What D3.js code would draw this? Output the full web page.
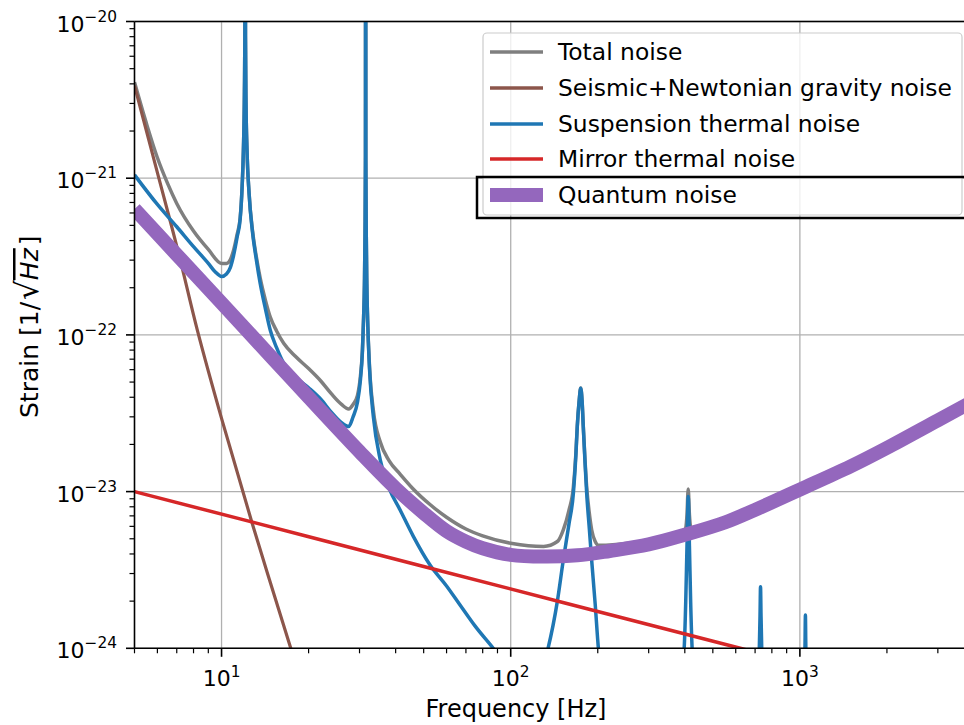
<!DOCTYPE html>
<html><head><meta charset="utf-8">
<script src="https://cdn.jsdelivr.net/npm/d3@7"></script>
<style>body{margin:0;background:#fff}svg{display:block;font-family:"DejaVu Sans",sans-serif}</style>
</head><body><svg id="c" width="964" height="725"></svg>
<script>
// ---------- data ----------
const freqDomain = [5, 5000];
const strainDomain = [1e-24, 1e-20];
const xMajorTicks = [10, 100, 1000];
const xTickExponents = ["1", "2", "3"];
const yMajorTicks = [1e-24, 1e-23, 1e-22, 1e-21, 1e-20];
const yTickExponents = ["\u221224", "\u221223", "\u221222", "\u221221", "\u221220"];
const seriesNames = ["Total noise", "Seismic+Newtonian gravity noise", "Suspension thermal noise", "Mirror thermal noise", "Quantum noise"];
const seriesColors = ["#7f7f7f", "#8c564b", "#1f77b4", "#d62728", "#9467bd"];

const totalNoise = [[5,4.09e-21],[5.5,2.23e-21],[6,1.35e-21],[6.5,9.3e-22],[7,6.9e-22],[8,4.6e-22],[9,3.51e-22],[10,2.86e-22],[10.4,2.86e-22],[10.73,3.03e-22],[11,3.46e-22],[11.32,4.38e-22],[11.6,5.6e-22],[11.78,8.9e-22],[11.9,1.5e-21],[12.0,3.6e-21],[12.04,8e-21],[12.07,1e-18],[12.1,8e-21],[12.15,3e-21],[12.25,1.5e-21],[12.45,8.07e-22],[12.8,4.6e-22],[13.2,3.13e-22],[13.6,2.31e-22],[14.2,1.65e-22],[14.74,1.3e-22],[15.5,1.06e-22],[16.4,8.85e-23],[18,7.3e-23],[20,6.1e-23],[22,5.1e-23],[24,4.2e-23],[26,3.6e-23],[27.5,3.37e-23],[28.5,3.6e-23],[29.5,4.1e-23],[30.2,5.4e-23],[30.7,8e-23],[31.0,1.31e-22],[31.2,2.1e-22],[31.35,4.5e-22],[31.45,1.3e-21],[31.5,1e-18],[31.55,1.3e-21],[31.65,4.5e-22],[31.8,2.1e-22],[32.0,1.26e-22],[32.5,6.2e-23],[33.5,3.3e-23],[35.4,2.07e-23],[38,1.57e-23],[41.5,1.29e-23],[46,1.04e-23],[52.6,8.27e-24],[60,6.86e-24],[70,5.77e-24],[80,5.22e-24],[100,4.68e-24],[115,4.51e-24],[130,4.47e-24],[145,4.8e-24],[152,5.7e-24],[159,7.6e-24],[164.7,1.07e-23],[168,1.75e-23],[169.9,2.63e-23],[172.5,3.82e-23],[174.6,4.58e-23],[176.5,3.82e-23],[178.2,2.63e-23],[180.5,1.65e-23],[183.1,1.07e-23],[187,7.27e-24],[190.5,5.71e-24],[196,4.8e-24],[201,4.54e-24],[220,4.57e-24],[300,4.9e-24],[390,5.45e-24],[398,5.55e-24],[403,5.85e-24],[407,7.1e-24],[411,1.04e-23],[415,7.1e-24],[419,5.9e-24],[424,5.6e-24],[432,5.65e-24],[550,6.45e-24],[700,7.75e-24],[724,8.0e-24],[731,8.3e-24],[738,8.05e-24],[1000,1.03e-23],[1045,1.08e-23],[2000,1.9e-23],[3000,2.85e-23],[5000,4.75e-23]];

const seismicNoise = [[5,3.9e-21],[6.07,1.0e-21],[7.1,3.33e-22],[8.25,1.07e-22],[10.04,2.86e-23],[12.76,6.28e-24],[17.3,1.02e-24],[20,4.4e-25]];

const suspensionNoise = [[5,1.05e-21],[6,6.8e-22],[7,4.9e-22],[8,3.66e-22],[9,2.86e-22],[9.5,2.53e-22],[10,2.36e-22],[10.4,2.45e-22],[10.73,2.7e-22],[11,3.2e-22],[11.32,4.2e-22],[11.6,5.5e-22],[11.78,8.8e-22],[11.9,1.5e-21],[12.0,3.6e-21],[12.04,8e-21],[12.07,1e-18],[12.1,8e-21],[12.15,3e-21],[12.25,1.5e-21],[12.45,8e-22],[12.8,4.5e-22],[13.2,3e-22],[13.6,2.14e-22],[14.2,1.45e-22],[14.74,1.07e-22],[15.5,8.3e-23],[16.4,6.6e-23],[18,5.4e-23],[20,4.6e-23],[22,3.9e-23],[24,3.2e-23],[26,2.75e-23],[27.5,2.6e-23],[28.5,3.0e-23],[29.5,3.7e-23],[30.2,5.1e-23],[30.7,7.8e-23],[31.0,1.3e-22],[31.2,2.1e-22],[31.35,4.5e-22],[31.45,1.3e-21],[31.5,1e-18],[31.55,1.3e-21],[31.65,4.5e-22],[31.8,2.1e-22],[32.0,1.25e-22],[32.5,6e-23],[33.5,3e-23],[35.4,1.59e-23],[38,1.05e-23],[41.5,7.6e-24],[46,5.2e-24],[52.6,3.4e-24],[60,2.5e-24],[66.8,1.89e-24],[75,1.4e-24],[87,1.0e-24],[100,7.2e-25],[115,5.5e-25],[125,6.5e-25],[134.6,1.0e-24],[145,2.0e-24],[152,3.66e-24],[159,6.2e-24],[164.7,9.75e-24],[168,1.7e-23],[169.9,2.6e-23],[172.5,3.8e-23],[174.6,4.56e-23],[176.5,3.8e-23],[178.2,2.6e-23],[180.5,1.6e-23],[183.1,9.75e-24],[187,5.8e-24],[190.5,3.66e-24],[196,1.9e-24],[201,1.0e-24],[210,6e-25],[300,3e-25],[390,7e-25],[398,1.0e-24],[403,2.0e-24],[407,4.5e-24],[411,9.3e-24],[415,4.5e-24],[419,2.0e-24],[424,1.0e-24],[432,7e-25],[600,3e-25],[720,7e-25],[724,1.0e-24],[728,1.6e-24],[731,2.47e-24],[734,1.6e-24],[738,1.0e-24],[742,7e-25],[900,3e-25],[1038,7e-25],[1042,1.1e-24],[1045,1.63e-24],[1048,1.1e-24],[1052,7e-25],[1300,3e-25],[5000,1e-25]];

const mirrorNoise = [[5,1e-23],[50,3.33e-24],[622,1e-24],[5000,3.7e-25]];

const quantumNoise = [[5,6.35e-22],[7,3.25e-22],[10,1.6e-22],[15,7.1e-23],[20,4.0e-23],[30,1.8e-23],[40,1.05e-23],[50,7.3e-24],[60,5.6e-24],[70,4.8e-24],[80,4.35e-24],[100,3.95e-24],[130,3.85e-24],[170,3.92e-24],[220,4.18e-24],[300,4.6e-24],[400,5.3e-24],[550,6.35e-24],[700,7.65e-24],[1000,1.03e-23],[1500,1.45e-23],[2000,1.9e-23],[3000,2.85e-23],[4000,3.8e-23],[5000,4.75e-23]];

const seriesData = [totalNoise, seismicNoise, suspensionNoise, mirrorNoise, quantumNoise];
const seriesWidths = [3.5, 3.2, 3.5, 3.5, 14];

// ---------- drawing ----------
const svg = d3.select("#c");
const L = 134.5, R = 1002, T = 21.5, B = 648.3;
const x = d3.scaleLog().domain(freqDomain).range([L, R]);
const y = d3.scaleLog().domain(strainDomain).range([B, T]);

svg.append("defs").append("clipPath").attr("id","clip")
  .append("rect").attr("x", L).attr("y", T).attr("width", R - L).attr("height", B - T);

// grid
const grid = svg.append("g").attr("stroke", "#b0b0b0").attr("stroke-width", 1.3);
xMajorTicks.forEach(f => grid.append("line").attr("x1", x(f)).attr("x2", x(f)).attr("y1", T).attr("y2", B));
yMajorTicks.forEach(v => grid.append("line").attr("x1", L).attr("x2", R).attr("y1", y(v)).attr("y2", y(v)));

// lines: resonant series keep a monotone curve, smooth series use Catmull-Rom
const lineMono = d3.line().x(d => x(d[0])).y(d => y(d[1])).curve(d3.curveMonotoneX);
const lineSmooth = d3.line().x(d => x(d[0])).y(d => y(d[1])).curve(d3.curveCatmullRom.alpha(0.5));
const plot = svg.append("g").attr("clip-path", "url(#clip)");
seriesData.forEach((data, i) => {
  const gen = (i === 1 || i === 3 || i === 4) ? lineSmooth : lineMono;
  plot.append("path").datum(data).attr("d", gen)
    .attr("fill", "none").attr("stroke", seriesColors[i])
    .attr("stroke-width", seriesWidths[i])
    .attr("stroke-linejoin", "round").attr("stroke-linecap", "butt");
});

// minor ticks
const xMinor = [], yMinor = [];
[1, 10, 100, 1000].forEach(d => { for (let m = 2; m <= 9; m++) { const f = m * d; if (f >= 5 && f <= 5000) xMinor.push(f); } });
[1e-24, 1e-23, 1e-22, 1e-21].forEach(d => { for (let m = 2; m <= 9; m++) yMinor.push(m * d); });

const ax = svg.append("g").attr("stroke", "#000");
xMinor.forEach(f => ax.append("line").attr("x1", x(f)).attr("x2", x(f)).attr("y1", B).attr("y2", B + 5).attr("stroke-width", 1.2));
xMajorTicks.forEach(f => ax.append("line").attr("x1", x(f)).attr("x2", x(f)).attr("y1", B).attr("y2", B + 8.5).attr("stroke-width", 1.6));
yMinor.forEach(v => ax.append("line").attr("x1", L - 5).attr("x2", L).attr("y1", y(v)).attr("y2", y(v)).attr("stroke-width", 1.2));
yMajorTicks.forEach(v => ax.append("line").attr("x1", L - 8.5).attr("x2", L).attr("y1", y(v)).attr("y2", y(v)).attr("stroke-width", 1.6));

// spines
ax.append("line").attr("x1", L).attr("x2", L).attr("y1", T).attr("y2", B).attr("stroke-width", 1.6);
ax.append("line").attr("x1", L).attr("x2", R).attr("y1", B).attr("y2", B).attr("stroke-width", 1.6);
ax.append("line").attr("x1", L).attr("x2", R).attr("y1", T).attr("y2", T).attr("stroke-width", 1.6);

// tick labels
const tickFont = 22;
xMajorTicks.forEach((f, i) => {
  const t = svg.append("text").attr("x", x(f)).attr("y", 686).attr("text-anchor", "middle")
    .attr("font-size", tickFont).attr("fill", "#000");
  t.append("tspan").text("10");
  t.append("tspan").attr("font-size", tickFont * 0.7).attr("dy", -9).text(xTickExponents[i]);
});
yMajorTicks.forEach((v, i) => {
  const t = svg.append("text").attr("x", 117).attr("y", y(v) + 10).attr("text-anchor", "end")
    .attr("font-size", tickFont).attr("fill", "#000");
  t.append("tspan").text("10");
  t.append("tspan").attr("font-size", tickFont * 0.7).attr("dy", -10).text(yTickExponents[i]);
});

// axis labels
svg.append("text").attr("x", 516).attr("y", 717).attr("text-anchor", "middle")
  .attr("font-size", 24).text("Frequency [Hz]");
const yl = svg.append("text").attr("transform", "translate(38,418) rotate(-90)")
  .attr("text-anchor", "start").attr("font-size", 25);
yl.append("tspan").text("Strain [1/");
yl.append("tspan").attr("font-size", 31).attr("dx", 2).text("\u221A");
yl.append("tspan").attr("font-style", "italic").attr("text-decoration", "overline").text("Hz");
yl.append("tspan").attr("dx", 3).text("]");

// legend
const lg = svg.append("g");
lg.append("rect").attr("x", 483).attr("y", 33).attr("width", 479).attr("height", 182).attr("rx", 4)
  .attr("fill", "#fff").attr("fill-opacity", 0.8).attr("stroke", "#cccccc").attr("stroke-width", 1.2);
const rowY = [52, 88, 124, 159, 195];
seriesNames.forEach((name, i) => {
  lg.append("line").attr("x1", 490).attr("x2", 543).attr("y1", rowY[i]).attr("y2", rowY[i])
    .attr("stroke", seriesColors[i]).attr("stroke-width", i === 4 ? 14 : 3.5);
  lg.append("text").attr("x", 558).attr("y", rowY[i] + 8).attr("font-size", 23.4).attr("fill", "#000").text(name);
});
// highlight box around the quantum noise entry
svg.append("rect").attr("x", 477).attr("y", 177).attr("width", 520).attr("height", 41)
  .attr("fill", "none").attr("stroke", "#000").attr("stroke-width", 2.5);
</script></body></html>
